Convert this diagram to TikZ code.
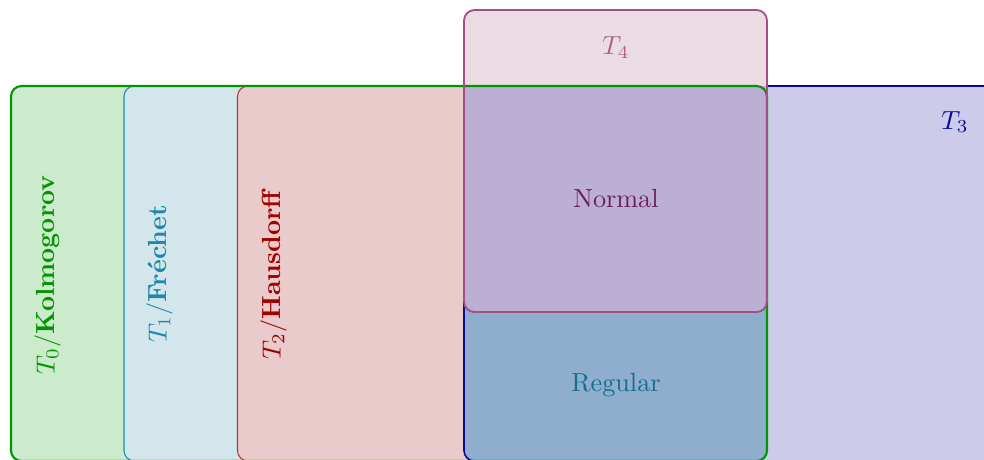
\documentclass[tikz,border=0pt]{standalone}
% separation axioms as nested, overlapping boxes
\definecolor{kolcol}{RGB}{0,150,0}
\definecolor{kolfill}{RGB}{204,234,204}
\definecolor{frecol}{RGB}{30,135,170}
\definecolor{frefill}{RGB}{210,230,236}
\definecolor{haucol}{RGB}{185,50,55}
\definecolor{hautext}{RGB}{160,0,0}
\definecolor{haufill}{RGB}{233,203,204}
\definecolor{tricol}{RGB}{10,10,150}
\definecolor{trifill}{RGB}{204,204,234}
\definecolor{regfill}{RGB}{143,173,204}
\definecolor{regtext}{RGB}{20,110,140}
\definecolor{quacol}{RGB}{160,80,130}
\definecolor{quafill}{RGB}{235,220,228}
\definecolor{norfill}{RGB}{187,176,212}
\definecolor{nortext}{RGB}{110,30,90}
\definecolor{quatext}{RGB}{170,100,140}
\begin{document}
\begin{tikzpicture}[x=0.3817pt,y=-0.3817pt,
  box/.style={rounded corners=4pt},
  label/.style={inner sep=0pt, font=\normalsize}]
\useasboundingbox (0,0) rectangle (984,459);
\begin{scope}
\clip (0,0) rectangle (984,459);
% T0 fill
\fill[box, kolfill] (11,86) rectangle (767,461);
% T1
\filldraw[box, fill=frefill, draw=frecol, line width=0.4pt] (124,86) rectangle (767,461);
% T2
\filldraw[box, fill=haufill, draw=haucol, line width=0.4pt] (237.5,86) rectangle (767,461);
% T3
\fill[box, trifill] (464,86) rectangle (1010,461);
\fill[box, regfill] (464,86) rectangle (767,461);
\draw[box, tricol, line width=0.6pt] (464,86) rectangle (1010,461);
% T4 fill
\fill[box, quafill] (464,10) rectangle (767,312);
\fill[norfill] (464.5,86) rectangle (766.5,300);
\fill[box, norfill] (464.5,250) rectangle (766.5,311.5);
% T0 outline
\draw[box, kolcol, line width=0.8pt] (11,86) rectangle (767,461);
% T4 outline on top
\draw[box, quacol, line width=0.7pt] (464,10) rectangle (767,312);
\end{scope}
% labels
\node[label, rotate=90, text=kolcol] (t0) at (48,275) {$T_0$/\textbf{Kolmogorov}};
\node[label, rotate=90, text=frecol] (t1) at (160,274) {$T_1$/\textbf{Fréchet}};
\node[label, rotate=90, text=hautext] (t2) at (274,274) {$T_2$/\textbf{Hausdorff}};
\node[label, text=tricol] (t3) at (955,122) {$T_3$};
\node[label, text=quatext] (t4) at (616,48) {$T_4$};
\node[label, text=nortext] (nor) at (616,199) {Normal};
\node[label, text=regtext] (reg) at (616,385) {Regular};
\end{tikzpicture}
\end{document}
